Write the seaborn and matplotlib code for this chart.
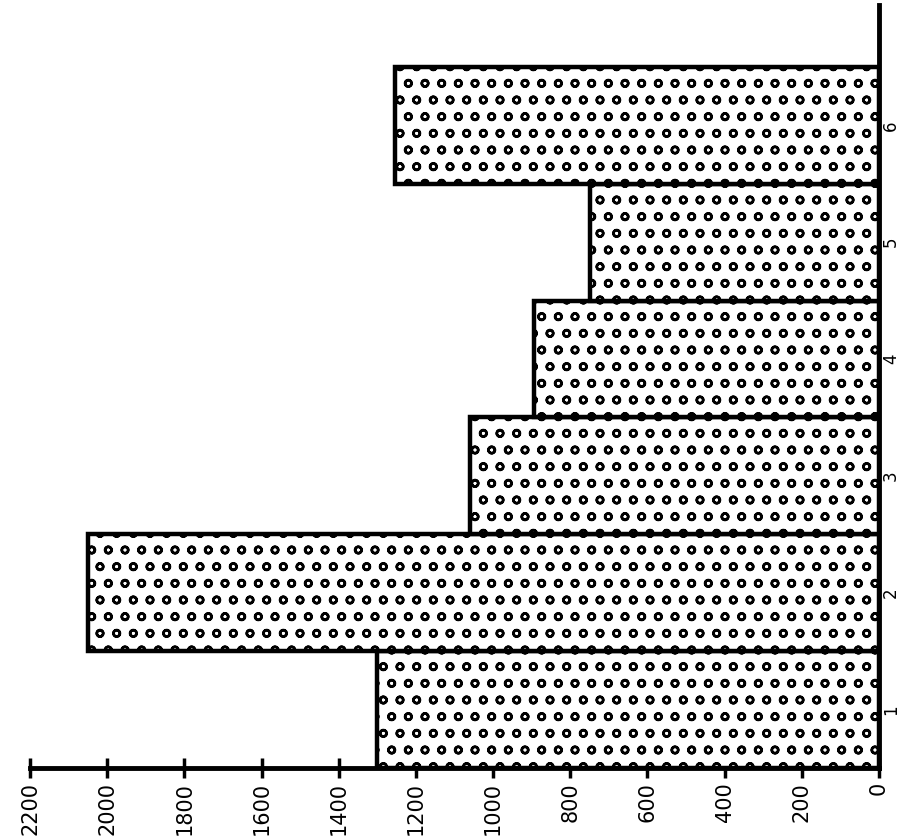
import matplotlib
matplotlib.use("Agg")
import matplotlib.pyplot as plt
import seaborn as sns
import pandas as pd

categories = [1, 2, 3, 4, 5, 6]
values = [1300, 2050, 1060, 895, 750, 1255]
value_ticks = [0, 200, 400, 600, 800, 1000, 1200, 1400, 1600, 1800, 2000, 2200]

df = pd.DataFrame({"category": categories, "value": values})

sns.set_theme(style="white")
plt.rcParams["font.family"] = ["DejaVu Sans"]
plt.rcParams["hatch.linewidth"] = 1.8
plt.rcParams["hatch.color"] = "black"

fig = plt.figure(figsize=(9.06, 8.4), dpi=100)
ax = fig.add_axes([30 / 906, 1 - 768 / 840, (879 - 30) / 906, (768 - 5) / 840])

sns.barplot(data=df, x="value", y="category", orient="y", native_scale=True,
            width=1.0, color="white", edgecolor="black", linewidth=3.2,
            ax=ax)
for p in ax.patches:
    p.set_hatch("o")
    p.set_facecolor("white")
    p.set_edgecolor("black")

ax.set_xlim(2200, 0)
ax.set_ylim(0.5, 7.03)
ax.set_xticks(value_ticks)
ax.set_xticklabels([str(v) for v in value_ticks], rotation=90, fontsize=15)
ax.yaxis.tick_right()
ax.set_yticks(categories)
ax.set_yticklabels([str(c) for c in categories], rotation=90, fontsize=12, va="center")
ax.tick_params(axis="x", bottom=True, direction="inout", length=14, width=2.5,
               colors="black", pad=3)
ax.tick_params(axis="y", right=True, direction="out", length=0, pad=2, colors="black")

for side in ["top", "left"]:
    ax.spines[side].set_visible(False)
for side in ["bottom", "right"]:
    ax.spines[side].set_visible(True)
    ax.spines[side].set_linewidth(3.5)
    ax.spines[side].set_color("black")

ax.set_xlabel("")
ax.set_ylabel("")
ax.grid(False)

fig.savefig("out.png", dpi=100, facecolor="white")
